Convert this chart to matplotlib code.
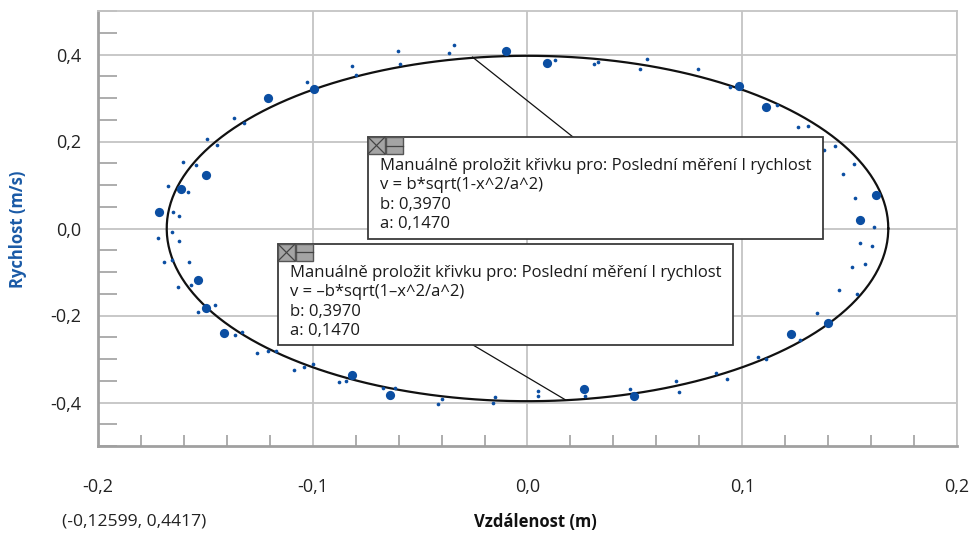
import numpy as np
import matplotlib
matplotlib.use('Agg')
import matplotlib.pyplot as plt
from matplotlib.patches import Rectangle
from matplotlib.lines import Line2D
from matplotlib.ticker import MultipleLocator, FuncFormatter

plt.rcParams['font.family'] = ['Open Sans', 'DejaVu Sans']

# velky bod - vybrana mereni
big_x = [-0.0994, -0.1208, -0.1499, -0.1614, -0.1716, -0.1533, -0.1496, -0.1414,
         -0.0819, -0.0640, 0.0264, 0.0494, 0.1225, 0.1400, 0.1550, 0.1622,
         0.1112, 0.0983, 0.0092, -0.0101]
big_y = [0.3205, 0.2992, 0.1229, 0.0909, 0.0389, -0.1184, -0.1825, -0.2411,
         -0.3372, -0.3823, -0.3693, -0.3853, -0.2434, -0.2175, 0.0199, 0.0772,
         0.2786, 0.3274, 0.3807, 0.4082]

# maly bod - ostatni mereni
small_x = [-0.1025, -0.1367, -0.1322, -0.1494, -0.1447, -0.1603, -0.1544, -0.1674,
           -0.1583, -0.1650, -0.1622, -0.1656, -0.1720, -0.1622, -0.1692, -0.1656,
           -0.1577, -0.1629, -0.1566, -0.1536, -0.1453, -0.1363, -0.1329, -0.1259,
           -0.1209, -0.1171, -0.1087, -0.1039, -0.1000, -0.0880, -0.0847, -0.0671,
           -0.0617, -0.0417, -0.0400, -0.0160, -0.0150, 0.0048, 0.0048, 0.0268,
           0.0476, 0.0690, 0.0707, 0.0876, 0.0930, 0.1074, 0.1112, 0.1268,
           0.1350, 0.1451, 0.1535, 0.1513, 0.1571, 0.0792, 0.0941, 0.1161,
           0.1259, 0.1308, 0.1381, 0.1433, 0.1520, 0.1471, 0.1526, 0.1615,
           0.1547, 0.1606, -0.0817, -0.0799, -0.0601, -0.0594, -0.0367, -0.0343,
           0.0129, 0.0310, 0.0330, 0.0526, 0.0558]
small_y = [0.3372, 0.2541, 0.2420, 0.2054, 0.1930, 0.1534, 0.1449, 0.0968,
           0.0840, 0.0389, 0.0298, -0.0085, -0.0213, -0.0298, -0.0762, -0.0726,
           -0.0762, -0.1351, -0.1289, -0.1916, -0.1770, -0.2443, -0.2381, -0.2855,
           -0.2816, -0.2823, -0.3244, -0.3182, -0.3107, -0.3526, -0.3510, -0.3663,
           -0.3670, -0.4045, -0.3915, -0.4006, -0.3869, -0.3725, -0.3853, -0.3846,
           -0.3679, -0.3510, -0.3748, -0.3313, -0.3450, -0.2946, -0.2999, -0.2564,
           -0.1953, -0.1413, -0.1495, -0.0877, -0.0808, 0.3670, 0.3244, 0.2832,
           0.2328, 0.2365, 0.1815, 0.1893, 0.1488, 0.1259, 0.0703, 0.0039,
           -0.0337, -0.0412, 0.3725, 0.3532, 0.4075, 0.3793, 0.4029, 0.4219,
           0.3869, 0.3771, 0.3839, 0.3670, 0.3892]

# prolozena krivka (jak je nakreslena)
curve_a = 0.168
curve_b = 0.397

fit_lines_top = ['Manuálně proložit křivku pro: Poslední měření I rychlost',
                 'v = b*sqrt(1-x^2/a^2)', 'b: 0,3970', 'a: 0,1470']
fit_lines_bot = ['Manuálně proložit křivku pro: Poslední měření I rychlost',
                 'v = \u2013b*sqrt(1\u2013x^2/a^2)', 'b: 0,3970', 'a: 0,1470']

W, H = 970, 533
fig = plt.figure(figsize=(W / 100, H / 100), dpi=100)

def px(x, y):
    return x / W, 1 - y / H

ax = fig.add_axes([98 / W, (H - 446) / H, (957 - 98) / W, (446 - 11) / H])
ax.set_xlim(-0.2, 0.2)
ax.set_ylim(-0.5, 0.5)

blue = '#0b4ea2'
grid_c = '#c4c4c4'

ax.xaxis.set_major_locator(MultipleLocator(0.1))
ax.xaxis.set_minor_locator(MultipleLocator(0.02))
ax.yaxis.set_major_locator(MultipleLocator(0.2))
ax.yaxis.set_minor_locator(MultipleLocator(0.05))
fmt = FuncFormatter(lambda v, p: ('%.1f' % v).replace('.', ',').replace('-0,0', '0,0'))
ax.xaxis.set_major_formatter(fmt)
ax.yaxis.set_major_formatter(fmt)
ax.grid(True, which='major', color=grid_c, linewidth=1.3)
ax.tick_params(which='major', length=0, labelsize=13, colors='#222222')
ax.tick_params(axis='x', which='major', pad=23)
ax.tick_params(axis='y', which='major', pad=12)
ax.tick_params(axis='y', which='minor', direction='in', length=14, width=1.2, color='#a0a0a0')
ax.tick_params(axis='x', which='minor', direction='in', length=8, width=1.2, color='#a0a0a0')
for s in ['left', 'bottom']:
    ax.spines[s].set_color('#a0a0a0')
    ax.spines[s].set_linewidth(2)
for s in ['top', 'right']:
    ax.spines[s].set_color(grid_c)
    ax.spines[s].set_linewidth(1.3)

t = np.linspace(0, 2 * np.pi, 400)
ax.plot(curve_a * np.cos(t), curve_b * np.sin(t), color='#111111', lw=1.6, zorder=3)
ax.scatter(small_x, small_y, s=7, color=blue, zorder=4, linewidths=0)
ax.scatter(big_x, big_y, s=44, color=blue, zorder=4, linewidths=0)

# popisky os
fig.text(*px(18, 229), 'Rychlost (m/s)', rotation=90, color='#1a5aa6', fontsize=12,
         fontweight='bold', ha='center', va='center')
fig.text(*px(535, 522), 'Vzdálenost (m)', fontsize=12, fontweight='bold',
         ha='center', va='center', color='#111111')
fig.text(*px(62, 522), '(-0,12599, 0,4417)', fontsize=12.6, ha='left', va='center',
         color='#222222')

def note_box(left, top, right, bottom, lines, base0, anchor, target):
    # spojnice k krivce
    fig.add_artist(Line2D([px(*anchor)[0], ax.transData.transform(target)[0] / W],
                          [px(*anchor)[1], ax.transData.transform(target)[1] / H],
                          color='#111111', lw=0.9, zorder=5))
    x0, y0 = px(left, bottom)
    fig.add_artist(Rectangle((x0, y0), (right - left) / W, (bottom - top) / H,
                             facecolor='white', edgecolor='#3a3a3a', lw=1.3, zorder=6))
    # ikonky
    for i in range(2):
        ix = left + i * 18
        fig.add_artist(Rectangle(px(ix, top + 17), 17 / W, 17 / H, facecolor='#a4a4a4',
                                 edgecolor='#555555', lw=1, zorder=7))
    fig.add_artist(Line2D([px(left, 0)[0], px(left + 17, 0)[0]],
                          [px(0, top)[1], px(0, top + 17)[1]], color='#444444', lw=0.9, zorder=8))
    fig.add_artist(Line2D([px(left, 0)[0], px(left + 17, 0)[0]],
                          [px(0, top + 17)[1], px(0, top)[1]], color='#444444', lw=0.9, zorder=8))
    fig.add_artist(Line2D([px(left + 18, 0)[0], px(left + 35, 0)[0]],
                          [px(0, top + 8.5)[1], px(0, top + 8.5)[1]], color='#444444', lw=0.9, zorder=8))
    for k, line in enumerate(lines):
        fig.text(*px(left + 12, base0 + k * 19.3), line, fontsize=12, color='#1a1a1a',
                 ha='left', va='baseline', zorder=9)

fig.canvas.draw()
note_box(368, 137, 823, 239, fit_lines_top, 170, (573, 137), (-0.0256, 0.394))
note_box(278, 244, 733, 345, fit_lines_bot, 277, (473, 345), (0.0177, -0.394))

fig.savefig('out.png', dpi=100)
